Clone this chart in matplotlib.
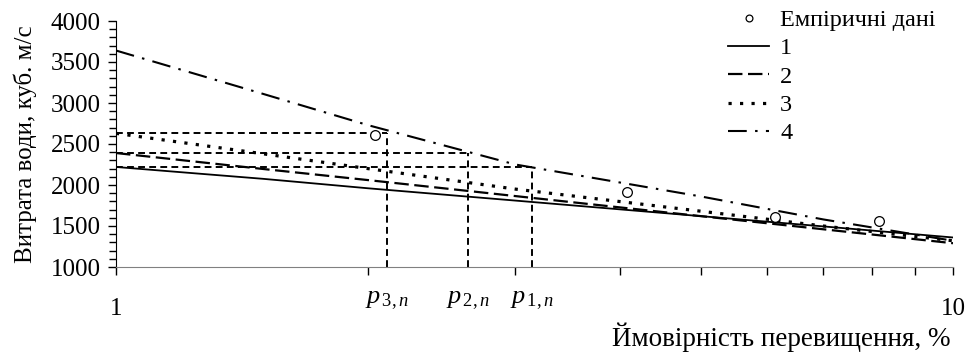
import matplotlib
matplotlib.use("Agg")
import matplotlib.pyplot as plt
from matplotlib.ticker import FixedLocator, NullFormatter, MultipleLocator

plt.rcParams["font.family"] = ["Liberation Serif", "DejaVu Serif"]
plt.rcParams["mathtext.fontset"] = "custom"
plt.rcParams["mathtext.rm"] = "Liberation Serif"
plt.rcParams["mathtext.it"] = "Liberation Serif:italic"

# ----------------------------------------------------------------------
# Data
# ----------------------------------------------------------------------
P_EMP = [2.04, 4.08, 6.12, 8.16]          # exceedance probability, %
Q_EMP = [2610, 1910, 1605, 1565]          # water discharge, m3/s

P_CURVE = [1, 1.5, 2, 3, 5, 7, 10]
Q_CURVE_1 = [2220, 2075, 1960, 1810, 1620, 1495, 1360]
Q_CURVE_2 = [2390, 2195, 2060, 1865, 1620, 1460, 1290]
Q_CURVE_3 = [2630, 2380, 2200, 1950, 1680, 1500, 1320]
Q_CURVE_4 = [3640, 3110, 2730, 2250, 1860, 1580, 1320]

CURVE_LABELS = ["1", "2", "3", "4"]
EMP_LABEL = "Емпіричні дані"

# critical probabilities and matching discharge levels
P_CRIT = [3.14, 2.63, 2.11]
Q_CRIT = [2220, 2390, 2630]
P_CRIT_LABELS = [r"$p_{\,\mathrm{1,}n}$", r"$p_{\,\mathrm{2,}n}$", r"$p_{\,\mathrm{3,}n}$"]

X_LABEL = "Ймовірність перевищення, %"
Y_LABEL = "Витрата води, куб. м/с"

FS = 18

# ----------------------------------------------------------------------
fig = plt.figure(figsize=(9.75, 3.53), dpi=100)
ax = fig.add_axes([116 / 975, 1 - 267 / 353, (953 - 116) / 975, (267 - 21) / 353])

styles = [
    dict(linestyle="-", linewidth=1.3),
    dict(linestyle=(0, (6.5, 2.5)), linewidth=1.6),
    dict(linestyle=(0, (1.0, 2.6)), linewidth=2.3),
    dict(linestyle=(0, (9, 4, 1.2, 4)), linewidth=1.5),
]
curves = [Q_CURVE_1, Q_CURVE_2, Q_CURVE_3, Q_CURVE_4]
handles = []
for q, st, lab in zip(curves, styles, CURVE_LABELS):
    ln, = ax.plot(P_CURVE, q, color="black", dash_capstyle="butt", label=lab, **st)
    handles.append(ln)

# helper lines for critical probabilities
for p, q in zip(P_CRIT, Q_CRIT):
    ax.plot([1, p], [q, q], color="black", linewidth=1.4, linestyle=(0, (3.5, 2.2)))
    ax.plot([p, p], [1000, q], color="black", linewidth=1.4, linestyle=(0, (3.5, 2.2)))

emp, = ax.plot(P_EMP, Q_EMP, linestyle="none", marker="o", markersize=7,
               markerfacecolor="white", markeredgecolor="black", markeredgewidth=0.9,
               label=EMP_LABEL, zorder=5)

ax.set_xscale("log")
ax.set_xlim(1, 10)
ax.set_ylim(1000, 4000)

ax.spines["top"].set_visible(False)
ax.spines["right"].set_visible(False)
ax.spines["bottom"].set_color("#808080")

ax.yaxis.set_major_locator(MultipleLocator(500))
ax.yaxis.set_minor_locator(MultipleLocator(100))
ax.tick_params(axis="y", which="major", length=6, width=1, labelsize=FS, pad=5)
ax.tick_params(axis="y", which="minor", length=5, width=1)

ax.xaxis.set_major_locator(FixedLocator([1, 10]))
ax.xaxis.set_minor_locator(FixedLocator([2, 3, 4, 5, 6, 7, 8, 9]))
ax.xaxis.set_minor_formatter(NullFormatter())
ax.set_xticklabels(["1", "10"])
ax.tick_params(axis="x", which="both", length=6, width=1, labelsize=FS, pad=16)

ax.set_ylabel(Y_LABEL, fontsize=FS, labelpad=10)
fig.text(950 / 975, 1 - 346 / 353, X_LABEL, fontsize=19.5, ha="right", va="baseline")

for p, lab in zip(P_CRIT, P_CRIT_LABELS):
    ax.annotate(lab, xy=(p, 1000), xytext=(0, -26), textcoords="offset points",
                ha="center", va="baseline", fontsize=19, annotation_clip=False)

leg = ax.legend([emp] + handles, [EMP_LABEL] + CURVE_LABELS,
                loc="upper left", bbox_to_anchor=(728 / 975, 1 - 9 / 353),
                bbox_transform=fig.transFigure, frameon=False, fontsize=17.5,
                handlelength=1.7, handletextpad=0.45, labelspacing=0.26,
                borderpad=0, borderaxespad=0, markerscale=0.7)

fig.savefig("out.png", dpi=100)
